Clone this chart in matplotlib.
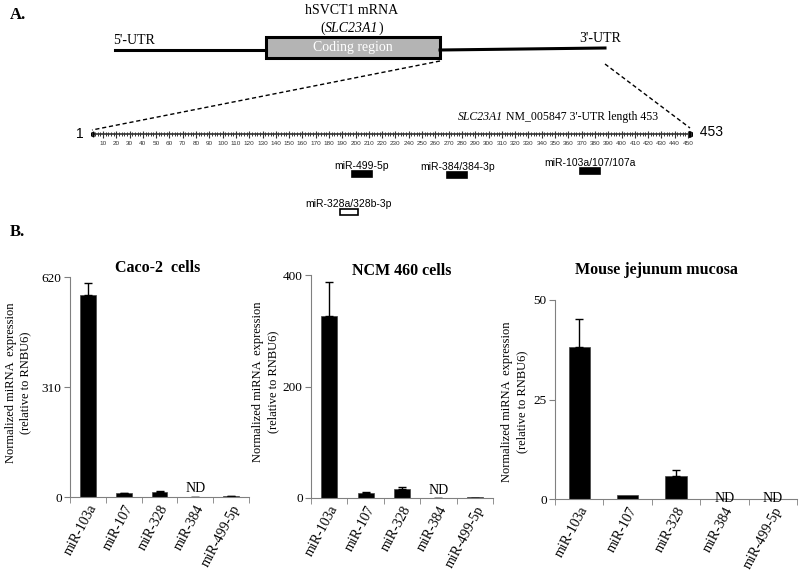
import matplotlib.pyplot as plt
import numpy as np
from matplotlib.patches import Rectangle

# miRNA expression data
cats = ['miR-103a', 'miR-107', 'miR-328', 'miR-384', 'miR-499-5p']
caco2_vals = [570, 11, 14, 0, 3]
caco2_err = [34, 1, 3, 0, 0.5]
ncm_vals = [327, 9.5, 16, 0, 1]
ncm_err = [61, 1, 3, 0, 0]
mouse_vals = [38.3, 1.1, 5.9, 0, 0]
mouse_err = [7, 0, 1.45, 0, 0]
caco2_nd = [3]
ncm_nd = [3]
mouse_nd = [3, 4]

# 3'-UTR binding sites (nt start, nt end)
utr_len = 453
site_names = ['miR-499-5p', 'miR-384/384-3p', 'miR-103a/107/107a', 'miR-328a/328b-3p']
site_start = [197, 269, 369, 188]
site_end = [212, 284, 384, 202]
site_open = [False, False, False, True]

serif = 'Liberation Serif'
sans = 'Liberation Sans'

fig = plt.figure(figsize=(8, 5.76), dpi=100)

# overlay in pixel units for the mRNA schematic
ov = fig.add_axes([0, 0, 1, 1])
ov.set_xlim(0, 800)
ov.set_ylim(576, 0)
ov.axis('off')

ov.text(10, 15, 'A.', fontsize=12, fontweight='bold', family=serif, va='center')
ov.text(10, 232, 'B.', fontsize=12, fontweight='bold', family=serif, va='center')
ov.text(352, 10, 'hSVCT1 mRNA', fontsize=10, family=serif, ha='center', va='center')
t1 = ov.text(320, 28, '(', fontsize=10, family=serif, ha='left', va='center')
t2 = ov.annotate('SLC23A1', xy=(1, 0), xycoords=t1, fontsize=10, family=serif,
                 fontstyle='italic', va='bottom')
ov.annotate(')', xy=(1, 0), xycoords=t2, fontsize=10, family=serif, va='bottom')
ov.plot([115, 266], [50, 50], color='black', lw=2.2)
ov.plot([440, 605], [50, 48], color='black', lw=2.2)
ov.add_patch(Rectangle((266, 37), 174, 21, facecolor='#b4b4b4', edgecolor='black', lw=2.2))
ov.text(353, 48, 'Coding region', fontsize=10, family=serif, color='white', ha='center', va='center')
ov.text(134, 40, "5'-UTR", fontsize=10, family=serif, ha='center', va='center')
ov.text(600, 38, "3'-UTR", fontsize=10, family=serif, ha='center', va='center')
ov.plot([440, 92], [61, 130], color='black', lw=1, ls=(0, (3, 2)))
ov.plot([605, 690], [64, 128], color='black', lw=1, ls=(0, (3, 2)))

# ruler of the 3'-UTR, x in nucleotides, y in pixels
ru = fig.add_axes([91 / 800, 1 - 222 / 576, 601 / 800, 102 / 576])
ru.set_xlim(1, utr_len)
ru.set_ylim(222, 120)
ru.axis('off')
ru.plot([1, utr_len], [134, 134], color='#333333', lw=1.2)
ru.plot([1], [134], marker='<', color='black', ms=3.5)
ru.plot([utr_len], [134], marker='>', color='black', ms=4.5)
minor = np.arange(2, utr_len, 2)
ru.vlines(minor, 132, 136, color='#333333', lw=0.7)
major = np.arange(10, 451, 10)
ru.vlines(major, 130.5, 137.5, color='#333333', lw=0.8)
for m in major:
    ru.text(m, 143.5, str(m), fontsize=4.6, family=sans, ha='center', va='center', color='#333333')
ru.text(1, 134, '1  ', fontsize=10, family=sans, ha='right', va='center')
ru.text(utr_len, 132, '  453', fontsize=10, family=sans, ha='left', va='center')
s1 = ru.text(277, 117, 'SLC23A1', fontsize=8.5, family=serif, fontstyle='italic',
             ha='left', va='center')
ru.annotate(" NM_005847 3'-UTR length 453", xy=(1, 0), xycoords=s1, fontsize=8.5,
            family=serif, va='bottom')

site_rows = [174, 175, 171, 212]
for name, s, e, op, yy in zip(site_names, site_start, site_end, site_open, site_rows):
    ru.add_patch(Rectangle((s, yy - 3), e - s, 6, facecolor='white' if op else 'black',
                           edgecolor='black', lw=1.2, clip_on=False))
    ru.text((s + e) / 2, yy - 8, name, fontsize=7.5, family=sans, ha='center', va='center')


def panel(rect, vals, err, ymax, yticks, title, title_xy, nd, nd_y, ylab_xy):
    ax = fig.add_axes(rect)
    x = np.arange(len(cats))
    ax.bar(x, vals, width=0.44, color='black', edgecolor='#444444', lw=0.5)
    ups = [v if e > 0 else 0 for v, e in zip(vals, err)]
    ax.errorbar(x, ups, yerr=[np.zeros(len(err)), err], fmt='none', ecolor='black',
                elinewidth=1, capsize=3, capthick=1)
    ax.set_xlim(-0.5, len(cats) - 0.5)
    ax.set_ylim(0, ymax)
    ax.set_yticks(yticks)
    ax.set_yticklabels([str(t) for t in yticks], fontsize=9.5, family=serif)
    ax.set_xticks(x)
    ax.set_xticklabels(cats, rotation=62, ha='right', va='top', rotation_mode='anchor',
                       fontsize=10, family=serif)
    ax.set_xticks(np.arange(-0.5, len(cats), 1), minor=True)
    ax.tick_params(axis='x', which='major', length=0, pad=4)
    ax.tick_params(axis='x', which='minor', length=4, color='#808080')
    ax.tick_params(axis='y', length=4, color='#808080', pad=2)
    for sp in ['top', 'right']:
        ax.spines[sp].set_visible(False)
    for sp in ['left', 'bottom']:
        ax.spines[sp].set_color('#808080')
    ax.text(title_xy[0], title_xy[1], title, transform=ax.transAxes, fontsize=11.5,
            fontweight='bold', family=serif, ha='center', va='center')
    for i in nd:
        ax.text(i, nd_y, 'ND', fontsize=10, family=serif, ha='center', va='center')
    ax.text(ylab_xy[0], ylab_xy[1], 'Normalized miRNA  expression\n(relative to RNBU6)',
            transform=ax.transAxes, rotation=90, fontsize=9, family=serif,
            ha='center', va='center', linespacing=1.35)
    return ax


panel([70 / 800, 1 - 497 / 576, 179 / 800, 220 / 576], caco2_vals, caco2_err, 620, [0, 310, 620],
      'Caco-2  cells', (0.49, 1.04), caco2_nd, 25, (-0.29, 0.52))
panel([311 / 800, 1 - 498 / 576, 182 / 800, 223 / 576], ncm_vals, ncm_err, 400, [0, 200, 400],
      'NCM 460 cells', (0.5, 1.02), ncm_nd, 13, (-0.25, 0.52))
panel([555 / 800, 1 - 499 / 576, 242 / 800, 199 / 576], mouse_vals, mouse_err, 50, [0, 25, 50],
      'Mouse jejunum mucosa', (0.42, 1.15), mouse_nd, 0, (-0.165, 0.49))

fig.savefig('out.png', dpi=100)
